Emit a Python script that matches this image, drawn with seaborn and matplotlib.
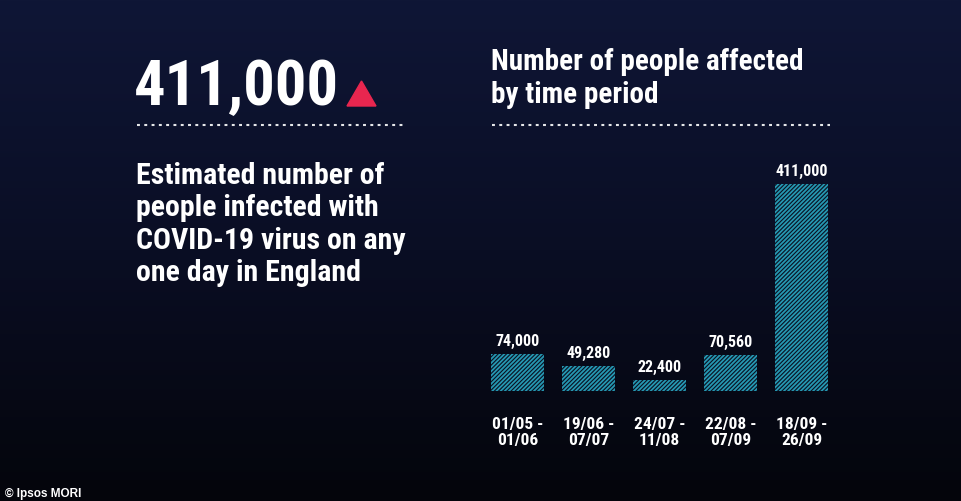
import numpy as np
import matplotlib.pyplot as plt
from matplotlib.lines import Line2D
from matplotlib.patches import Polygon
from matplotlib.colors import LinearSegmentedColormap
import seaborn as sns

# data
periods = ["01/05 -\n01/06", "19/06 -\n07/07", "24/07 -\n11/08", "22/08 -\n07/09", "18/09 -\n26/09"]
infected = [74000, 49280, 22400, 70560, 411000]
headline = "411,000"
body_text = "Estimated number of\npeople infected with\nCOVID-19 virus on any\none day in England"
chart_title = "Number of people affected\nby time period"
credit = "\u00a9 Ipsos MORI"

W, H = 962, 501
CYAN = "#2598b2"
RED = "#e8264f"

sns.set_theme(style="dark")
plt.rcParams['font.family'] = ['Roboto Condensed', 'DejaVu Sans']
plt.rcParams['hatch.linewidth'] = 1.3

fig = plt.figure(figsize=(W / 100, H / 100), dpi=100)


def fx(px):
    return px / W


def fy(py):
    return 1 - py / H


# background gradient, drawn in pixel coordinates
bg = fig.add_axes([0, 0, 1, 1])
grad = np.linspace(0, 1, 256).reshape(-1, 1)
cmap = LinearSegmentedColormap.from_list('bg', ['#0f1636', '#0a0e24', '#04050b'])
bg.imshow(grad, aspect='auto', cmap=cmap, extent=[0, W, H, 0])
bg.set_xlim(0, W)
bg.set_ylim(H, 0)
bg.axis('off')

# left panel
fig.text(fx(134), fy(105), headline, color='white', fontsize=45, fontweight='bold',
         ha='left', va='baseline')
bg.add_patch(Polygon([[347, 106], [376, 106], [361.5, 81]], closed=True, color=RED))
# multiline with va='baseline' aligns the last line
fig.text(fx(136), fy(281), body_text, color='white', fontsize=21.5, fontweight='bold',
         ha='left', va='baseline', linespacing=1.2)
fig.text(fx(491), fy(103), chart_title, color='white', fontsize=21, fontweight='bold',
         ha='left', va='baseline', linespacing=1.25)
fig.text(fx(5), fy(497), credit, color='white', fontsize=8.5, fontweight='bold',
         ha='left', va='baseline', family=['Liberation Sans', 'DejaVu Sans'])

for x0, x1 in [(137, 403), (492, 830)]:
    fig.add_artist(Line2D([fx(x0), fx(x1)], [fy(124.5), fy(124.5)], transform=fig.transFigure,
                          color='white', lw=1.5, dashes=(1.4, 2.1), alpha=0.9))

# bar chart
ax = fig.add_axes([fx(482), fy(391), 355 / W, 226.6 / H])
ax.patch.set_alpha(0)
sns.barplot(x=periods, y=infected, ax=ax, color='#0a1022', saturation=1, width=0.755)
for p in ax.patches:
    p.set_edgecolor(CYAN)
    p.set_linewidth(0)
    p.set_hatch('////////')

ax.bar_label(ax.containers[0], labels=[f"{v:,}" for v in infected], padding=3.6,
             color='white', fontsize=11.5, fontweight='bold')
ax.set_ylim(0, 450000)
ax.set_xlim(-0.5, len(periods) - 0.5)
ax.set_yticks([])
ax.set_ylabel('')
ax.grid(False)
for s in ax.spines.values():
    s.set_visible(False)
ax.tick_params(axis='x', length=0, pad=19, labelcolor='white', labelsize=12.5)
for t in ax.get_xticklabels():
    t.set_fontweight('bold')
    t.set_linespacing(1.05)

fig.savefig('out.png', dpi=100, facecolor='#090d20')
